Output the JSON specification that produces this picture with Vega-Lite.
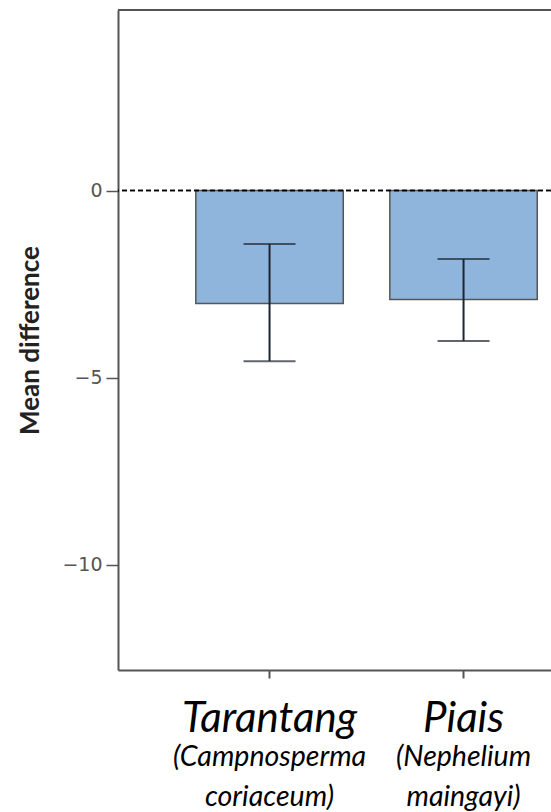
{
  "$schema": "https://vega.github.io/schema/vega-lite/v6.json",
  "width": 433,
  "height": 660,
  "autosize": {"type": "none"},
  "padding": {"left": 118, "top": 10, "right": 0, "bottom": 142},
  "background": "white",
  "config": {"view": {"stroke": null}, "axis": {"grid": false}},
  "data": {
    "values": [
      {"name": "Tarantang", "species": "Campnosperma coriaceum", "mean": -3.02, "lo": -4.56, "hi": -1.43},
      {"name": "Piais", "species": "Nephelium maingayi", "mean": -2.91, "lo": -4.02, "hi": -1.83}
    ]
  },
  "layer": [
    {
      "mark": {"type": "bar", "fill": "#8fb5dd", "stroke": "#555555", "strokeWidth": 1.5},
      "encoding": {
        "x": {
          "field": "name", "type": "nominal", "sort": null,
          "scale": {"paddingInner": 0.24, "paddingOuter": 0.236, "align": 0.85},
          "axis": {
            "orient": "bottom",
            "title": null, "labelAngle": 0, "labelFont": "Lato", "labelFontStyle": "italic",
            "labelFontSize": 42, "labelColor": "#000000", "labelBaseline": "top", "labelPadding": 20,
            "tickSize": 8, "tickColor": "#555555", "tickWidth": 2, "domainColor": "#555555", "domainWidth": 2,
            "labelOverlap": false, "labelBound": false, "labelLimit": 400
          }
        },
        "y": {
          "field": "mean", "type": "quantitative",
          "scale": {"domain": [-12.82, 4.83], "nice": false},
          "axis": {
            "values": [0, -5, -10], "title": "Mean difference",
            "titleFont": "Lato", "titleFontWeight": "bold", "titleFontSize": 26, "titleColor": "#222222", "titlePadding": 18,
            "labelFont": "DejaVu Sans", "labelFontSize": 19, "labelColor": "#555555", "labelPadding": 4,
            "tickSize": 12, "tickColor": "#555555", "tickWidth": 1.5, "domainColor": "#555555", "domainWidth": 2
          }
        }
      }
    },
    {
      "mark": {"type": "rule", "color": "#000000", "strokeWidth": 1.5, "strokeDash": [5, 3]},
      "encoding": {"y": {"datum": 0}}
    },
    {
      "mark": {"type": "rule", "color": "#555555", "strokeWidth": 2},
      "encoding": {"y": {"datum": 4.83}}
    },
    {
      "mark": {"type": "rule", "color": "#1c2530", "strokeWidth": 2},
      "encoding": {
        "x": {
          "field": "name", "type": "nominal", "sort": null,
          "axis": {
            "orient": "bottom",
            "title": null, "domain": false, "ticks": false, "tickSize": 0, "labelAngle": 0,
            "labelExpr": "datum.value == 'Tarantang' ? ['(Campnosperma', 'coriaceum)'] : ['(Nephelium', 'maingayi)']",
            "labelFont": "Lato", "labelFontStyle": "italic", "labelFontSize": 28.5, "labelLineHeight": 40,
            "labelBaseline": "top", "labelPadding": 72, "labelColor": "#000000",
            "labelOverlap": false, "labelBound": false, "labelLimit": 400
          }
        },
        "y": {"field": "lo", "type": "quantitative"},
        "y2": {"field": "hi"}
      }
    },
    {
      "mark": {"type": "tick", "size": 52, "thickness": 2, "color": "#1c2530"},
      "encoding": {
        "x": {"field": "name", "type": "nominal", "sort": null, "axis": null},
        "y": {"field": "lo", "type": "quantitative"}
      }
    },
    {
      "mark": {"type": "tick", "size": 52, "thickness": 2, "color": "#1c2530"},
      "encoding": {
        "x": {"field": "name", "type": "nominal", "sort": null, "axis": null},
        "y": {"field": "hi", "type": "quantitative"}
      }
    }
  ],
  "resolve": {"axis": {"x": "independent"}}
}
